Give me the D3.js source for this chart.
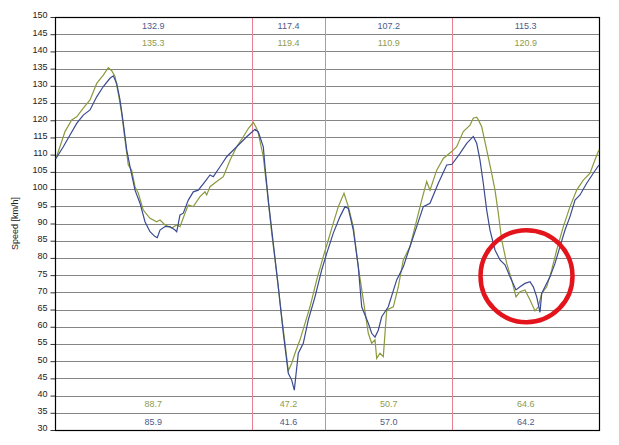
<!DOCTYPE html>
<html>
<head>
<meta charset="utf-8">
<script src="https://cdn.jsdelivr.net/npm/d3@7/dist/d3.min.js"></script>
<style>
  html, body { margin: 0; padding: 0; background: #ffffff; }
  svg { display: block; font-family: "Liberation Sans", Arial, sans-serif; }
</style>
</head>
<body>
<svg id="chart" width="619" height="445"></svg>
<script>
// ---- data ----
const yTicks = d3.range(30, 151, 5);
const sectionBounds = [196.7, 270.3, 397.3];
const sectionCenters = [98.35, 233.5, 333.8, 470.65];
const blueMax = ["132.9", "117.4", "107.2", "115.3"];
const greenMax = ["135.3", "119.4", "110.9", "120.9"];
const greenMin = ["88.7", "47.2", "50.7", "64.6"];
const blueMin = ["85.9", "41.6", "57.0", "64.2"];

const greenDist = [1,10,16.7,21.7,28.3,35,41.7,48.3,53.3,56.7,60,63.3,66.7,70,73.3,76.7,80,83.3,88.3,95,101.7,105,110,116.7,121.7,125,130,133.3,138.3,145,150,151.7,155,161.7,168.3,175,181.7,188.3,193.3,198.3,201.7,203.3,208.3,211.7,216.7,221.7,226.7,230,233.3,236.7,240,245,250,255,261.7,268.3,273.3,278.3,283.3,289,293.3,298.3,303.3,308.3,313.3,316.7,320,321.7,325,328.3,331.7,338.3,343.3,348.3,355,361.7,366.7,371.7,375,381.7,388.3,396.7,401.7,408.3,415,418.3,421.7,423.3,426.7,431.7,436.7,440,443.3,446.7,451.7,456.7,461,465,470,475,480,483.3,486.7,491.7,496.7,501.7,508.3,515,521.7,528.3,535,540,544];
const greenSpeed = [108.9,116.7,120.1,121,123.5,125.9,130.7,133.1,135.3,134.4,132.7,127.8,122,114.3,107,105.5,100.7,98.8,93.9,91.5,90.5,91,89.6,88.7,89.6,89.1,93,95.4,94.9,97.8,99.2,98.3,100.7,102.2,103.6,108.4,112.3,115.2,117.6,119.4,117.6,116.2,109.4,100.7,87.2,75.5,62.9,55.2,47.2,49.4,52.3,56.2,61,65.8,73.6,80.4,85.2,90.1,94.9,98.8,94.9,89.1,77.4,67.8,58.1,55.2,56.2,50.8,52.3,51.3,64.9,65.8,71.6,79.4,83.3,91,96.8,102.2,99.7,105.5,108.9,110.9,112.3,116.7,118.6,120.6,120.9,120.1,118.1,111.4,104.6,99.7,93,85.2,78.4,73.6,68.7,70.2,70.7,67.8,64.6,65.8,69.7,71.6,76.5,82.3,89.1,94.9,99.7,102.6,104.6,108.5,111.4];

const blueDist = [1,8.3,15,21.7,28.3,35,41.7,48.3,55,58.3,61.7,65,68.3,71.7,75,80,85,90,95,100,102.3,105,110,115,120,121.7,125,128.3,133.3,138.3,143.3,150,155,158.3,165,171.7,181.7,191.7,200,203.3,208.3,210,213.3,218.3,223.3,228.3,233.3,236.7,239.3,243.3,248.3,253.3,260,266.7,271.7,278.3,285,290,293.3,298.3,303.3,306.7,313.3,316.7,320,323.3,326.7,333.3,341.7,348.3,355,361.7,368.3,375,383.3,391.7,397,405,411.7,418.3,421.7,425,428.3,431.7,435,440,445,450,455,461,465,470,475,478.3,481.7,485,486.7,490,495,500,505,510,515,520,525,531.7,538.3,544];
const blueSpeed = [108.9,112.3,115.7,119.1,121.5,123,126.8,129.8,132.2,132.9,130.7,125.9,119.1,111.4,106.5,99.7,95.9,90.5,87.6,86.2,85.9,88.1,89.1,89.1,88.1,87.6,92.5,93,96.8,99.2,99.7,102.2,104.1,103.6,106.5,109.4,112.3,115.2,117.4,116.6,112.3,106.5,96.8,84.2,71.6,58.1,46.5,44.5,41.6,52.3,55.2,62,68.7,76.5,81.3,87.2,92,94.9,94.4,88.1,77.4,65.8,61,58.1,57,59,62.9,65.8,73.6,77.4,83.3,89.1,94.9,95.9,101.7,107,107.2,110.4,113.3,115.3,113.3,108.4,101.7,93.9,88.1,82.3,79.4,78,74.5,70.7,71.6,72.6,73.1,71.6,68.7,64.2,69.7,71.6,74.5,78.4,83.3,88.1,92,96.8,98.3,101.7,104.6,107];

// annotation circle (data coordinates)
const circleCenter = [471.5, 74.7];

// ---- drawing ----
const svg = d3.select("#chart");
const mLeft = 55, mRight = 599, mTop = 17, mBottom = 430;
const x = d3.scaleLinear().domain([0, 544]).range([mLeft, mRight]);
const y = d3.scaleLinear().domain([30, 150]).range([mBottom, mTop]);

const blueCol = "#3b4b93", greenCol = "#8a9a3c";
const blueText = "#4d5b8a", greenText = "#8e9b50";

// gridlines
svg.append("g").selectAll("line").data(yTicks.filter(t => t > 30 && t < 150)).join("line")
  .attr("x1", mLeft).attr("x2", mRight)
  .attr("y1", d => Math.round(y(d)) + 0.5).attr("y2", d => Math.round(y(d)) + 0.5)
  .attr("stroke", "#858585").attr("stroke-width", 1);

// section lines
svg.append("g").selectAll("line").data(sectionBounds).join("line")
  .attr("x1", d => Math.round(x(d)) + 0.5).attr("x2", d => Math.round(x(d)) + 0.5)
  .attr("y1", mTop).attr("y2", mBottom)
  .attr("stroke", "#e8808f").attr("stroke-width", 1);

// y axis
const yAxis = d3.axisLeft(y).tickValues(yTicks).tickSize(5).tickPadding(3);
const ga = svg.append("g").attr("transform", `translate(${mLeft + 0.5},0)`).call(yAxis);
ga.select(".domain").remove();
ga.selectAll(".tick line").attr("stroke", "#333");
ga.selectAll(".tick text").attr("font-size", 9).attr("fill", "#222")
  .attr("font-family", "Liberation Sans, Arial, sans-serif").attr("dy", "0.1em");

// plot frame
svg.append("rect").attr("x", mLeft + 0.5).attr("y", mTop + 0.5)
  .attr("width", mRight - mLeft).attr("height", mBottom - mTop)
  .attr("fill", "none").attr("stroke", "#000").attr("stroke-width", 1.2);

// y title
svg.append("text").attr("transform", `translate(18,${(mTop + mBottom) / 2}) rotate(-90)`)
  .attr("text-anchor", "middle").attr("font-size", 9).attr("fill", "#222")
  .text("Speed [km/h]");

// lines
const line = d3.line().x(d => x(d[0])).y(d => y(d[1]));
svg.append("path").datum(greenDist.map((d, i) => [d, greenSpeed[i]]))
  .attr("d", line).attr("fill", "none").attr("stroke", greenCol).attr("stroke-width", 1.2);
svg.append("path").datum(blueDist.map((d, i) => [d, blueSpeed[i]]))
  .attr("d", line).attr("fill", "none").attr("stroke", blueCol).attr("stroke-width", 1.2);

// value labels
function rowText(vals, band, col) {
  svg.append("g").selectAll("text").data(vals).join("text")
    .attr("x", (d, i) => x(sectionCenters[i]))
    .attr("y", (y(band) + y(band + 5)) / 2)
    .attr("dy", "0.35em").attr("text-anchor", "middle")
    .attr("font-size", 9).attr("fill", col).text(d => d);
}
rowText(blueMax, 145, blueText);
rowText(greenMax, 140, greenText);
rowText(greenMin, 35, greenText);
rowText(blueMin, 30, blueText);

// annotation circle
svg.append("circle").attr("cx", x(circleCenter[0])).attr("cy", y(circleCenter[1]))
  .attr("r", 46).attr("fill", "none").attr("stroke", "#e3141c").attr("stroke-width", 4.5);
</script>
</body>
</html>
